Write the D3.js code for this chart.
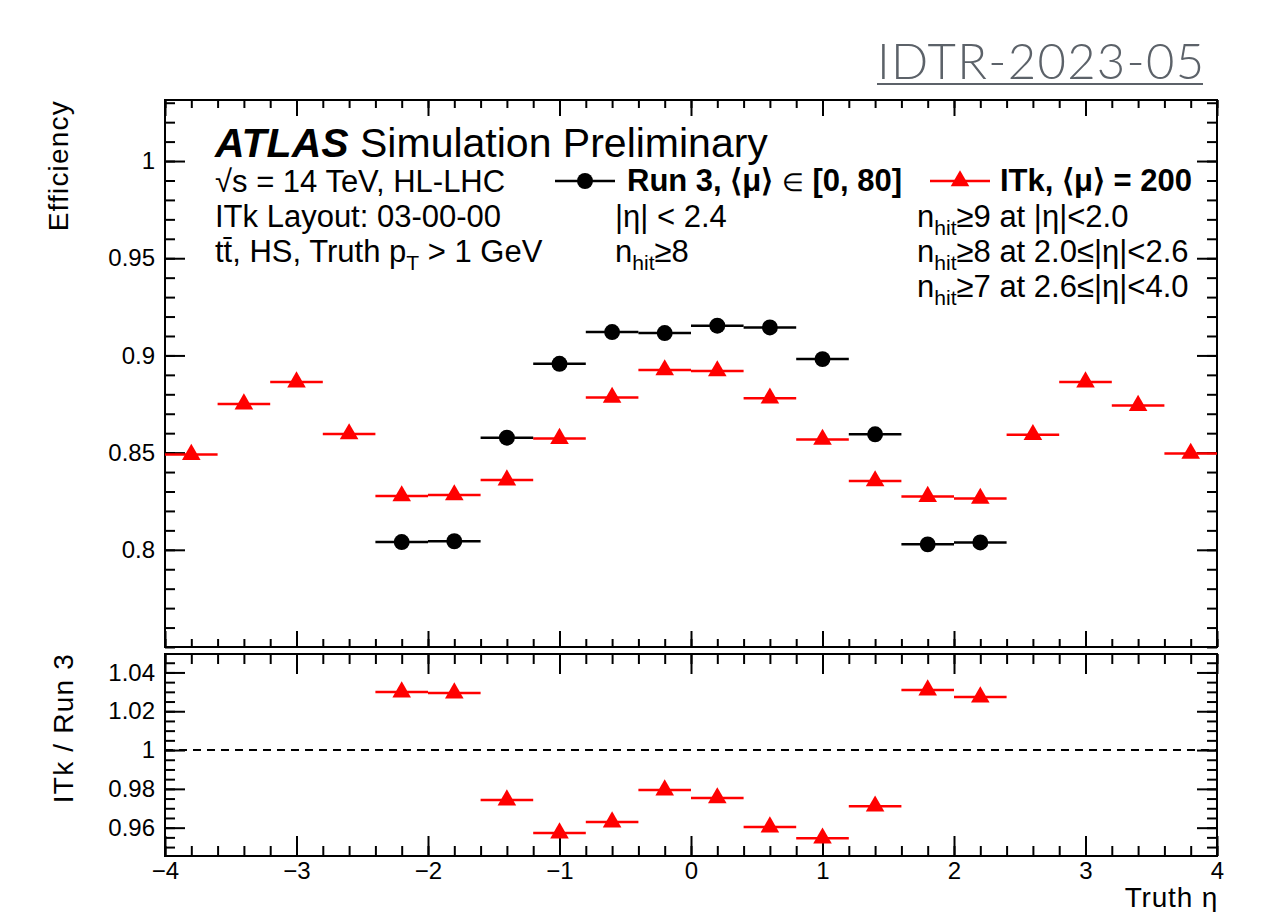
<!DOCTYPE html>
<html>
<head>
<meta charset="utf-8">
<script src="https://cdn.jsdelivr.net/npm/d3@7"></script>
<style>
  body { margin: 0; background: #fff; }
  text { font-family: "Liberation Sans", Arial, Helvetica, sans-serif; }
</style>
</head>
<body>
<svg id="chart" width="1261" height="912"></svg>
<script>
// bin centres (truth eta), bin half width 0.2
const itkEta = [-3.8, -3.4, -3.0, -2.6, -2.2, -1.8, -1.4, -1.0, -0.6, -0.2,
                0.2, 0.6, 1.0, 1.4, 1.8, 2.2, 2.6, 3.0, 3.4, 3.8];
const itkEff = [0.849, 0.8750, 0.8863, 0.8596, 0.8277, 0.8282, 0.8359, 0.8572, 0.8784, 0.8925,
                0.8920, 0.8780, 0.8568, 0.8354, 0.8274, 0.8264, 0.8592, 0.8863, 0.8742, 0.8496];
const run3Eta = [-2.2, -1.8, -1.4, -1.0, -0.6, -0.2, 0.2, 0.6, 1.0, 1.4, 1.8, 2.2];
const run3Eff = [0.8040, 0.8044, 0.8577, 0.8957, 0.9120, 0.9115, 0.9153, 0.9144, 0.8981, 0.8594, 0.8028, 0.8038];
const ratioVals = [1.0299, 1.0294, 0.9742, 0.9572, 0.9629, 0.9794, 0.9753, 0.9603, 0.9546, 0.9711, 1.0309, 1.0273];
const binHalf = 0.2;

const xMajor = [-4, -3, -2, -1, 0, 1, 2, 3, 4];
const effMajor = [0.8, 0.85, 0.9, 0.95, 1];
const ratioMajor = [0.96, 0.98, 1, 1.02, 1.04];

const svg = d3.select("#chart");
const left = 165, right = 1217;
const up = { top: 100, bottom: 647 };
const lo = { top: 654, bottom: 856 };

const x = d3.scaleLinear().domain([-4, 4]).range([left, right]);
const yEff = d3.scaleLinear().domain([0.75, 1.0314]).range([up.bottom, up.top]);
const yRatio = d3.scaleLinear().domain([0.9454, 1.0495]).range([lo.bottom, lo.top]);

const xMinor = x.ticks(40);
const effMinor = yEff.ticks(28);
const ratioMinor = yRatio.ticks(20);
const fmt = d3.format("~g");

// ROOT style ticks: all four sides, pointing inward
function ticks(axisFn, scale, values, size, at, withLabels, padding) {
  const axis = axisFn(scale).tickValues(values).tickSize(size).tickSizeOuter(0);
  if (withLabels) axis.tickPadding(padding).tickFormat(fmt);
  else axis.tickFormat("");
  const horiz = axisFn === d3.axisBottom || axisFn === d3.axisTop;
  const g = svg.append("g")
    .attr("transform", horiz ? `translate(0,${at})` : `translate(${at},0)`)
    .call(axis);
  g.select(".domain").remove();
  g.selectAll("line").attr("stroke", "#000").attr("stroke-width", 2);
  g.attr("font-size", 24).attr("font-family", null);
  g.selectAll("text").attr("fill", "#000");
  return g;
}

function frame(p, yScale, yMajor, yMinor, xMaj, xMin, yMaj, yMin, xLabels, yPad) {
  ticks(d3.axisBottom, x, xMinor, -xMin, p.bottom, false);
  ticks(d3.axisBottom, x, xMajor, -xMaj, p.bottom, xLabels, 6);
  ticks(d3.axisTop, x, xMinor, -xMin, p.top, false);
  ticks(d3.axisTop, x, xMajor, -xMaj, p.top, false);
  ticks(d3.axisLeft, yScale, yMinor, -yMin, left, false);
  ticks(d3.axisLeft, yScale, yMajor, -yMaj, left, true, yPad);
  ticks(d3.axisRight, yScale, yMinor, -yMin, right, false);
  ticks(d3.axisRight, yScale, yMajor, -yMaj, right, false);
  svg.append("rect")
    .attr("x", left).attr("y", p.top)
    .attr("width", right - left).attr("height", p.bottom - p.top)
    .attr("fill", "none").attr("stroke", "#000").attr("stroke-width", 2);
}

frame(up, yEff, effMajor, effMinor, 16, 8, 20, 10, false, 10);
frame(lo, yRatio, ratioMajor, ratioMinor, 20, 10, 20, 10, true, 10);

// unity line in ratio
svg.append("line")
  .attr("x1", x(-4)).attr("x2", x(4))
  .attr("y1", yRatio(1)).attr("y2", yRatio(1))
  .attr("stroke", "#000").attr("stroke-width", 2).attr("stroke-dasharray", "8,6");

const tri = d3.symbol().type(d3.symbolTriangle).size(150);
const dot = d3.symbol().type(d3.symbolCircle).size(200);

function points(etas, vals, yScale, color, sym) {
  const g = svg.append("g");
  g.selectAll("line").data(vals).join("line")
    .attr("x1", (d, i) => x(etas[i] - binHalf))
    .attr("x2", (d, i) => x(etas[i] + binHalf))
    .attr("y1", d => yScale(d)).attr("y2", d => yScale(d))
    .attr("stroke", color).attr("stroke-width", 2.5);
  g.selectAll("path").data(vals).join("path")
    .attr("d", sym)
    .attr("transform", (d, i) => `translate(${x(etas[i])},${yScale(d)})`)
    .attr("fill", color);
}

points(itkEta, itkEff, yEff, "#ff0000", tri);
points(run3Eta, run3Eff, yEff, "#000", dot);
points(run3Eta, ratioVals, yRatio, "#ff0000", tri);

// text helper with sub-scripts
function label(px, py, parts, size) {
  const t = svg.append("text").attr("x", px).attr("y", py).attr("font-size", size).attr("fill", "#000");
  parts.forEach(p => {
    const s = t.append("tspan").text(p.t);
    if (p.sub) s.attr("font-size", size * 0.68).attr("dy", 8);
    if (p.back) s.attr("dy", -8);
    if (p.small) s.attr("font-size", size * 0.8);
    if (p.bold) s.attr("font-weight", "bold");
    if (p.italic) s.attr("font-style", "italic");
  });
  return t;
}

label(215, 157, [{ t: "ATLAS", bold: true, italic: true }, { t: " Simulation Preliminary" }], 41);
label(215, 192, [{ t: "√s = 14 TeV, HL-LHC" }], 31);
label(215, 227, [{ t: "ITk Layout: 03-00-00" }], 31);
label(215, 262, [{ t: "tt\u0304, HS, Truth p" }, { t: "T", sub: true }, { t: " > 1 GeV", back: true }], 31);

label(615, 227, [{ t: "|η| < 2.4" }], 31);
label(615, 262, [{ t: "n" }, { t: "hit", sub: true }, { t: "≥8", back: true }], 31);

label(917, 227, [{ t: "n" }, { t: "hit", sub: true }, { t: "≥9 at |η|<2.0", back: true }], 31);
label(917, 262, [{ t: "n" }, { t: "hit", sub: true }, { t: "≥8 at 2.0≤|η|<2.6", back: true }], 31);
label(917, 297, [{ t: "n" }, { t: "hit", sub: true }, { t: "≥7 at 2.6≤|η|<4.0", back: true }], 31);

// legend
const legY = 181;
svg.append("line").attr("x1", 555).attr("x2", 615).attr("y1", legY).attr("y2", legY)
  .attr("stroke", "#000").attr("stroke-width", 2.5);
svg.append("path").attr("d", dot).attr("transform", `translate(585,${legY})`).attr("fill", "#000");
label(627, 191, [{ t: "Run 3, ⟨μ⟩ ", bold: true }, { t: "∈", small: true }, { t: " [0, 80]", bold: true }], 31);
svg.append("line").attr("x1", 930).attr("x2", 990).attr("y1", legY).attr("y2", legY)
  .attr("stroke", "#ff0000").attr("stroke-width", 2.5);
svg.append("path").attr("d", tri).attr("transform", `translate(960,${legY})`).attr("fill", "#ff0000");
label(1000, 191, [{ t: "ITk, ⟨μ⟩ = 200", bold: true }], 31);

// axis titles
svg.append("text").attr("transform", "translate(68,100) rotate(-90)")
  .attr("text-anchor", "end").attr("font-size", 28).attr("letter-spacing", 1.2)
  .text("Efficiency");
svg.append("text").attr("transform", "translate(73,653) rotate(-90)")
  .attr("text-anchor", "end").attr("font-size", 28).attr("letter-spacing", 1.2)
  .text("ITk / Run 3");
svg.append("text").attr("x", 1218).attr("y", 907)
  .attr("text-anchor", "end").attr("font-size", 28).attr("letter-spacing", 0.8)
  .text("Truth η");

// document tag
svg.append("text").attr("x", 877).attr("y", 79)
  .attr("font-size", 49).attr("font-weight", 300).attr("letter-spacing", 1.3)
  .style("font-family", "Lato, Inter, sans-serif")
  .attr("fill", "#5c6269")
  .text("IDTR-2023-05");
svg.append("line").attr("x1", 877).attr("x2", 1203).attr("y1", 84).attr("y2", 84)
  .attr("stroke", "#5c6269").attr("stroke-width", 2);
</script>
</body>
</html>
